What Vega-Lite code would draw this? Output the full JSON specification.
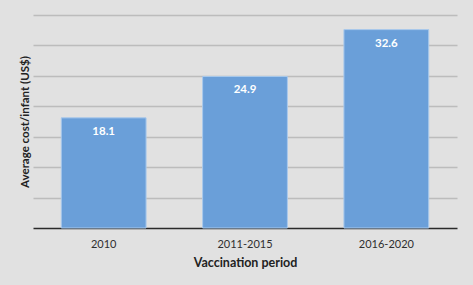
{
  "$schema": "https://vega.github.io/schema/vega-lite/v6.json",
  "autosize": {"type": "none"},
  "width": 424,
  "height": 213,
  "padding": {"left": 33, "top": 15, "right": 16, "bottom": 57},
  "background": "#e1e1e1",
  "config": {"view": {"stroke": null}, "font": "Lato"},
  "data": {"values": [
    {"period": "2010", "cost": 18.1},
    {"period": "2011-2015", "cost": 24.9},
    {"period": "2016-2020", "cost": 32.6}
  ]},
  "encoding": {
    "x": {"field": "period", "type": "nominal", "sort": null,
      "scale": {"paddingInner": 0.4, "paddingOuter": 0.2},
      "axis": {"title": "Vaccination period", "labelAngle": 0, "ticks": false,
        "domainColor": "#2a2a2a", "domainWidth": 1.5, "labelFontSize": 11, "labelColor": "#2f2f2f",
        "labelPadding": 10, "titleFontSize": 12.5, "titleFontWeight": "bold", "titleColor": "#222222", "titlePadding": 7}},
    "y": {"field": "cost", "type": "quantitative",
      "scale": {"domain": [0, 35], "nice": false},
      "axis": {"title": "Average cost/infant (US$)", "values": [5, 10, 15, 20, 25, 30, 35], "labels": false, "ticks": false, "domain": false,
        "gridColor": "#bcbcbc", "gridWidth": 1.3, "titleFontSize": 11.5, "titleFontWeight": "bold", "titleColor": "#222222", "titlePadding": 3}}
  },
  "layer": [
    {"mark": {"type": "bar", "color": "#6a9fd9", "stroke": "#a9c9ec", "strokeWidth": 1}},
    {"mark": {"type": "text", "baseline": "top", "dy": 8, "color": "white", "fontWeight": "bold", "fontSize": 11.5},
      "encoding": {"text": {"field": "cost", "type": "quantitative", "format": ".1f"}}}
  ]
}
